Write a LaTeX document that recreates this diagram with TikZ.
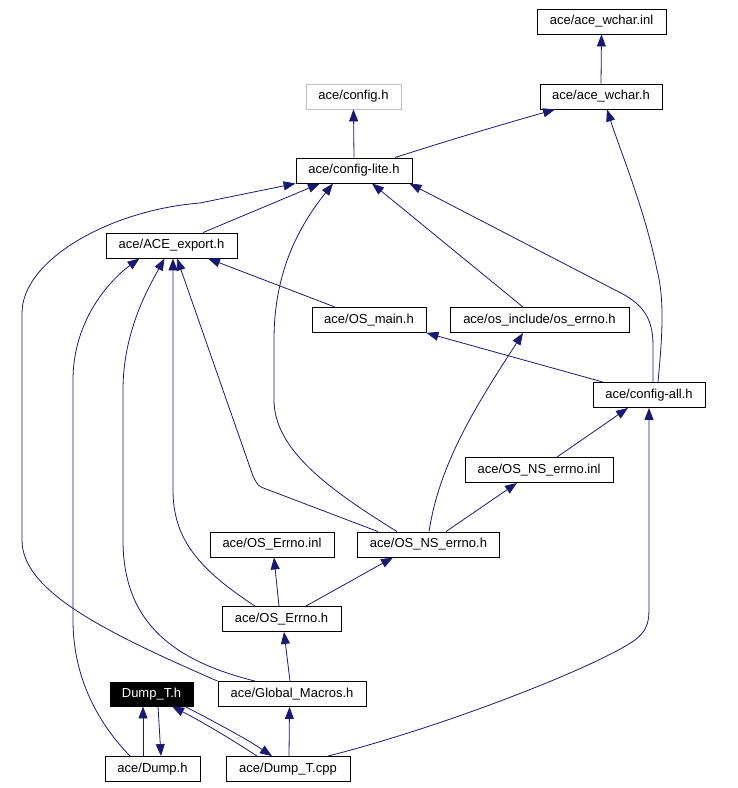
\documentclass[tikz,border=0pt]{standalone}
\usepackage{fontspec}
\setmainfont{Liberation Sans}
\usetikzlibrary{arrows.meta,calc}
\definecolor{edgeblue}{HTML}{191970}
\definecolor{boxgray}{HTML}{BFBFBF}
\begin{document}
\begin{tikzpicture}[x=1pt,y=-1pt,
  box/.style={draw=black, line width=0.9pt, rectangle, inner sep=0pt, minimum height=25pt,
    font=\fontsize{13}{15}\selectfont, text=black},
  graybox/.style={box, draw=boxgray},
  curbox/.style={box, fill=black, text=white},
  edge/.style={draw=edgeblue, line width=0.8pt, -{Triangle[length=12pt,width=9pt]}}]
\useasboundingbox (0,0) rectangle (738,788);

\node[box, minimum width=129pt] (winl) at (601.5,21.5) {ace/ace\_wchar.inl};
\node[box, minimum width=122pt] (wh) at (601,96.5) {ace/ace\_wchar.h};
\node[graybox, minimum width=95pt] (cfg) at (353.5,96.5) {ace/config.h};
\node[box, minimum width=116pt] (lite) at (354,170.5) {ace/config-lite.h};
\node[box, minimum width=131pt] (exp) at (171.5,245.5) {ace/ACE\_export.h};
\node[box, minimum width=114pt] (osm) at (369,320) {ace/OS\_main.h};
\node[box, minimum width=179pt] (ose) at (539.5,320) {ace/os\_include/os\_errno.h};
\node[box, minimum width=112pt] (cfa) at (649,395) {ace/config-all.h};
\node[box, minimum width=148pt] (nsi) at (539,470) {ace/OS\_NS\_errno.inl};
\node[box, minimum width=124pt] (eri) at (272,544.5) {ace/OS\_Errno.inl};
\node[box, minimum width=142pt] (nsh) at (428.5,544.5) {ace/OS\_NS\_errno.h};
\node[box, minimum width=119pt] (erh) at (281.5,619) {ace/OS\_Errno.h};
\node[curbox, minimum width=83pt, minimum height=24pt] (dth) at (151.5,694) {Dump\_T.h};
\node[box, minimum width=148pt] (gm) at (292,694) {ace/Global\_Macros.h};
\node[box, minimum width=95pt] (dh) at (152.5,769) {ace/Dump.h};
\node[box, minimum width=124pt] (cpp) at (288,769) {ace/Dump\_T.cpp};

% top
\draw[edge] (wh.north) -- (winl.south);
\draw[edge] (lite.north) -- (cfg.south);
\draw[edge] ([xshift=41pt]lite.north) .. controls (440,143) and (500,125) .. ([xshift=-46pt]wh.south);

% into config-lite
\draw[edge] ([xshift=31.5pt]exp.north) -- ([xshift=-34pt]lite.south);
\draw[edge] (gm.north west) .. controls (100,630) and (22,590) .. (22,540) -- (22,313)
  .. controls (22,260) and (110,210) .. (200,203) -- (lite.south west);
\draw[edge] ([xshift=-31.5pt]nsh.north) .. controls (330,490) and (274,450) .. (274,400) -- (274,340)
  .. controls (274,270) and (300,225) .. ([xshift=-21pt]lite.south);
\draw[edge] ([xshift=-16.5pt]ose.north) -- ([xshift=18pt]lite.south);
\draw[edge] ([xshift=4pt]cfa.north) -- (653,345) .. controls (653,315) and (640,302) .. (615,290)
  -- ([xshift=-3pt]lite.south east);

% into ace_wchar.h
\draw[edge] ([xshift=9pt]cfa.north) .. controls (662,340) and (665,300) .. (657,270)
  .. controls (645,210) and (620,150) .. ([xshift=6pt]wh.south);

% into os_errno / ns inl / config-all / os_main
\draw[edge] ([xshift=0.5pt]nsh.north) .. controls (440,460) and (480,400) .. ([xshift=-16.5pt]ose.south);
\draw[edge] ([xshift=17.5pt]nsh.north) -- ([xshift=-22pt]nsi.south);
\draw[edge] ([xshift=18pt]nsi.north) -- ([xshift=-21pt]cfa.south);
\draw[edge] ([xshift=-46pt]cfa.north) -- (osm.south east);

% into ACE_export.h
\draw[edge] ([xshift=-34pt]osm.north) -- ([xshift=36.5pt]exp.south);
\draw[edge] ([xshift=-26.5pt]erh.north) .. controls (200,570) and (173,540) .. (173,490) -- ([xshift=1.5pt]exp.south);
\draw[edge] ([xshift=-37pt]gm.north) .. controls (170,660) and (123,620) .. (123,540) -- (123,390)
  .. controls (123,330) and (150,285) .. ([xshift=-7pt]exp.south);
\draw[edge] ([xshift=-22.5pt]dh.north) .. controls (100,725) and (73,680) .. (73,620) -- (73,380)
  .. controls (73,320) and (110,280) .. ([xshift=-32pt]exp.south);
\draw[edge] ([xshift=-50.5pt]nsh.north) -- (266,489) .. controls (258,486) .. (253,476) -- ([xshift=5.5pt]exp.south);

% lower part
\draw[edge] ([xshift=-2.5pt]erh.north) -- ([xshift=2pt]eri.south);
\draw[edge] ([xshift=24.5pt]erh.north) -- ([xshift=-35.5pt]nsh.south);
\draw[edge] ([xshift=-2pt]gm.north) -- ([xshift=2.5pt]erh.south);
\draw[edge] ([xshift=-9.5pt]dh.north) -- ([xshift=-8.5pt]dth.south);
\draw[edge] ([xshift=6.5pt]dth.south) -- ([xshift=8.5pt]dh.north);
\draw[edge] ([xshift=-31pt]cpp.north) .. controls (225,735) and (195,718) .. ([xshift=20.5pt]dth.south);
\draw[edge] ([xshift=33.5pt]dth.south) .. controls (215,722) and (245,738) .. ([xshift=-16pt]cpp.north);
\draw[edge] ([xshift=1pt]cpp.north) -- ([xshift=-2.5pt]gm.south);
\draw[edge] ([xshift=40pt]cpp.north) .. controls (450,725) and (600,665) .. (635,640)
  .. controls (645,632) and (649,625) .. (649,610) -- (cfa.south);
\end{tikzpicture}
\end{document}
